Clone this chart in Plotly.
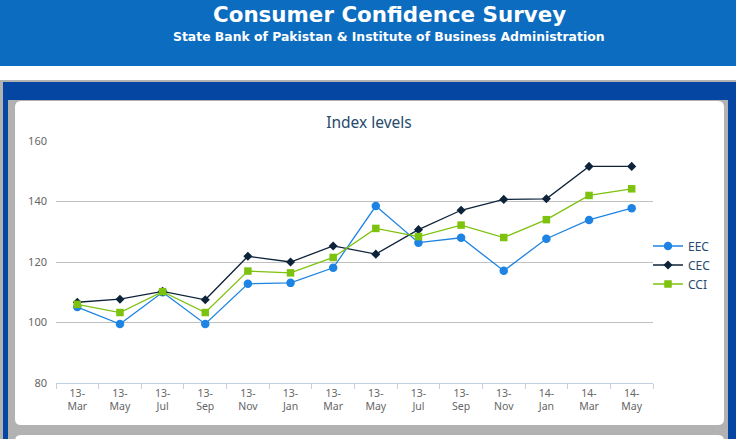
import plotly.graph_objects as go

labels = ["13-Mar", "13-May", "13-Jul", "13-Sep", "13-Nov", "13-Jan", "13-Mar",
          "13-May", "13-Jul", "13-Sep", "13-Nov", "14-Jan", "14-Mar", "14-May"]
eec = [105.1, 99.5, 110.0, 99.5, 112.8, 113.1, 118.1, 138.5, 126.4, 128.0, 117.1, 127.7, 133.9, 137.8]
cec = [106.7, 107.7, 110.3, 107.5, 121.9, 120.0, 125.3, 122.6, 130.7, 137.1, 140.7, 140.9, 151.6, 151.6]
cci = [106.0, 103.3, 110.2, 103.3, 117.0, 116.4, 121.5, 131.1, 128.4, 132.2, 128.1, 134.0, 142.0, 144.2]

W, H = 736, 439
L, R, T, B = 56, 653, 141, 383

def px(x):
    return (x - L) / (R - L)

def py(y):
    return (B - y) / (B - T)

xs = list(range(len(labels)))
ticktext = [s.replace("-", "-<br>") for s in labels]

fig = go.Figure()
series = [
    ("EEC", eec, "#1E84E4", "circle", 8.5),
    ("CEC", cec, "#0d233a", "diamond", 7),
    ("CCI", cci, "#7DC20E", "square", 7.5),
]
for name, vals, col, sym, sz in series:
    fig.add_trace(go.Scatter(
        x=xs, y=vals, name=name, mode="lines+markers",
        line=dict(color=col, width=1.3),
        marker=dict(color=col, symbol=sym, size=sz, line=dict(width=0)),
    ))

def rect(x0, y0, x1, y1, color):
    return dict(type="rect", xref="paper", yref="paper", layer="below",
                x0=px(x0), x1=px(x1), y0=py(y1), y1=py(y0),
                fillcolor=color, line=dict(width=0))

def rrect(x0, y0, x1, y1, r, color):
    pts = (f"M {px(x0+r)},{py(y0)} L {px(x1-r)},{py(y0)} "
           f"Q {px(x1)},{py(y0)} {px(x1)},{py(y0+r)} "
           f"L {px(x1)},{py(y1-r)} Q {px(x1)},{py(y1)} {px(x1-r)},{py(y1)} "
           f"L {px(x0+r)},{py(y1)} Q {px(x0)},{py(y1)} {px(x0)},{py(y1-r)} "
           f"L {px(x0)},{py(y0+r)} Q {px(x0)},{py(y0)} {px(x0+r)},{py(y0)} Z")
    return dict(type="path", xref="paper", yref="paper", layer="below",
                path=pts, fillcolor=color, line=dict(width=0))

shapes = [
    rect(0, 0, W, 66, "#0B6CC0"),
    rect(0, 66, W, 80, "#FFFFFF"),
    rect(0, 80, W, H, "#B2B2B2"),
    rect(3, 82, W, 100, "#0646A3"),
    rect(3, 82, 8, H, "#0646A3"),
    rect(728, 82, W, H, "#0646A3"),
    rrect(15, 101, 724, 425, 6, "#FFFFFF"),
    rrect(15, 435, 724, 470, 6, "#FFFFFF"),
]

annotations = [
    dict(text="<b>Consumer Confidence Survey</b>", xref="paper", yref="paper",
         x=px(389.5), y=py(15), xanchor="center", yanchor="middle", showarrow=False,
         font=dict(family="DejaVu Sans", size=21.4, color="#FFFFFF")),
    dict(text="<b>State Bank of Pakistan &amp; Institute of Business Administration</b>",
         xref="paper", yref="paper",
         x=px(388.5), y=py(36.5), xanchor="center", yanchor="middle", showarrow=False,
         font=dict(family="DejaVu Sans", size=12.4, color="#FFFFFF")),
]

fig.update_layout(
    width=W, height=H,
    margin=dict(l=L, r=W - R, t=T, b=H - B, pad=0),
    paper_bgcolor="#FFFFFF",
    plot_bgcolor="rgba(0,0,0,0)",
    font=dict(family="Noto Sans", color="#666666", size=11),
    title=dict(text="Index levels", x=369 / W, xanchor="center",
               y=1 - 122.5 / H, yanchor="middle", yref="container",
               font=dict(family="Noto Sans", size=15.5, color="#274b6d")),
    shapes=shapes,
    annotations=annotations,
    showlegend=True,
    legend=dict(x=px(648), y=py(231.5), xanchor="left", yanchor="top",
                bgcolor="rgba(0,0,0,0)", tracegroupgap=0,
                font=dict(family="Noto Sans", size=12, color="#274b6d")),
    xaxis=dict(
        range=[-0.5, len(labels) - 0.5],
        tickmode="array", tickvals=xs, ticktext=ticktext,
        ticks="", showgrid=False, zeroline=False,
        showline=True, linecolor="#C0D0E0", linewidth=1,
        tickfont=dict(family="Noto Sans", size=10.5, color="#666666"),
        ticklabelstandoff=0,
        minor=dict(tickvals=[i - 0.5 for i in range(len(labels) + 1)],
                   ticks="outside", ticklen=5, tickcolor="#C0D0E0", tickwidth=1,
                   showgrid=False),
    ),
    yaxis=dict(
        range=[80, 160], tickvals=[80, 100, 120, 140, 160],
        showgrid=True, gridcolor="#C0C0C0", gridwidth=1,
        zeroline=False, showline=False, ticks="",
        ticklabelstandoff=8,
        tickfont=dict(family="Noto Sans", size=11, color="#666666"),
    ),
)

fig.write_html("out.html",
               config={"displayModeBar": False},
               post_script="document.body.style.margin='0';document.body.style.overflow='hidden';")
